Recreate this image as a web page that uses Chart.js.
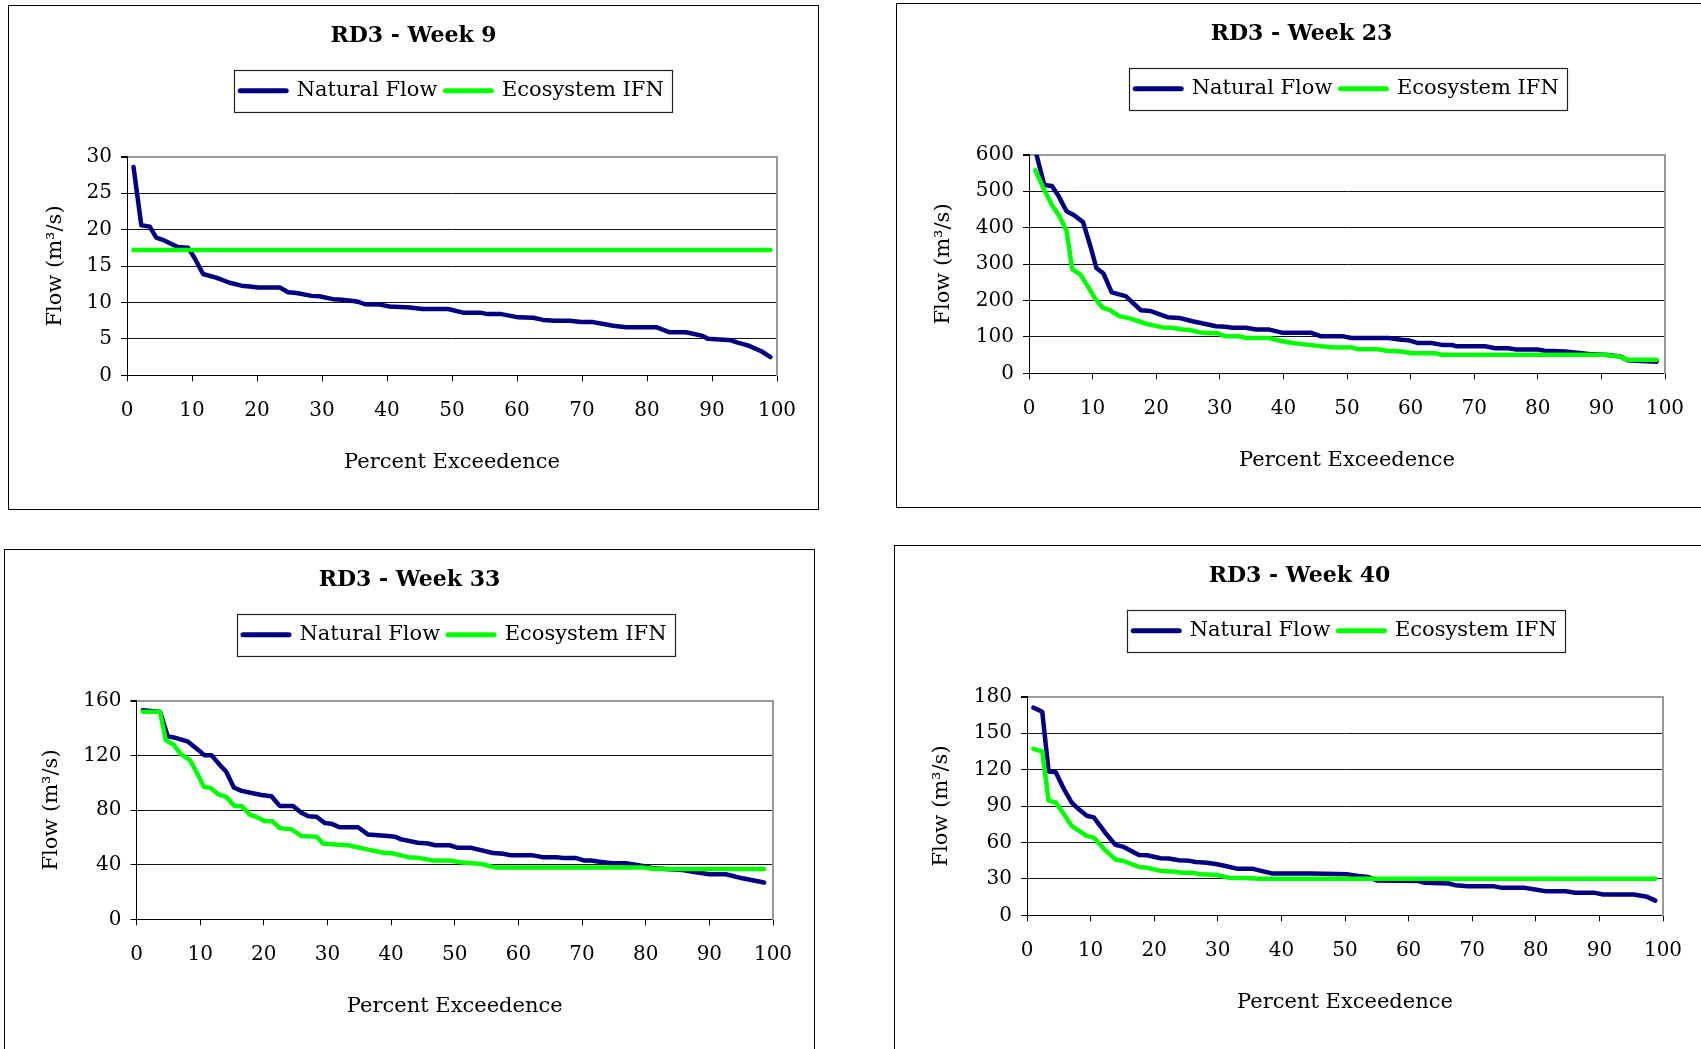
<!DOCTYPE html>
<html>
<head>
<meta charset="utf-8">
<title>RD3 flow duration curves</title>
<script src="https://cdn.jsdelivr.net/npm/chart.js@4.4.0/dist/chart.umd.min.js"></script>
<style>
  html, body { margin: 0; padding: 0; background: #fff; }
  body { width: 1701px; height: 1049px; position: relative; overflow: hidden; }
  .panel { position: absolute; width: 811px; height: 505px; border: 1px solid #000; box-sizing: border-box; background: #fff; }
  .panel canvas { position: absolute; left: 0; top: 0; }
</style>
</head>
<body>
<div class="panel" style="left:8px;top:5px"><canvas id="week9" width="809" height="503"></canvas></div>
<div class="panel" style="left:896px;top:3px"><canvas id="week23" width="809" height="503"></canvas></div>
<div class="panel" style="left:4px;top:549px"><canvas id="week33" width="809" height="503"></canvas></div>
<div class="panel" style="left:894px;top:545px"><canvas id="week40" width="809" height="503"></canvas></div>
<script>
// tick labels
const pctTicks = [0, 10, 20, 30, 40, 50, 60, 70, 80, 90, 100];
const week9FlowTicks = [0, 5, 10, 15, 20, 25, 30];
const week23FlowTicks = [0, 100, 200, 300, 400, 500, 600];
const week33FlowTicks = [0, 40, 80, 120, 160];
const week40FlowTicks = [0, 30, 60, 90, 120, 150, 180];

// week 9 (percent exceedence / flow)
const week9NaturalPct = [1, 2.2, 3.5, 4.5, 5.5, 7.8, 9.4, 10.4, 11.7, 13.7, 15.8, 17.6, 18.9, 20.2, 23.5, 24.8, 26.1, 28.4, 29.6, 31.7, 32.7, 34.8, 35.5, 36.6, 38.9, 40.4, 43.5, 45.5, 49.4, 51.7, 54.3, 55.5, 57.6, 60.2, 62.5, 64, 65.8, 68.1, 69.9, 71.7, 73.5, 74.8, 76.8, 81.4, 83.5, 86, 88.4, 89.4, 91.2, 93, 93.7, 95.5, 97.6, 99];
const week9Natural = [28.6, 20.6, 20.4, 18.9, 18.6, 17.6, 17.5, 16.1, 13.9, 13.4, 12.7, 12.3, 12.2, 12.05, 12.05, 11.4, 11.3, 10.9, 10.85, 10.45, 10.4, 10.2, 10.1, 9.75, 9.7, 9.45, 9.3, 9.1, 9.1, 8.6, 8.6, 8.4, 8.4, 7.95, 7.9, 7.6, 7.5, 7.5, 7.3, 7.3, 7.0, 6.8, 6.6, 6.6, 5.9, 5.9, 5.45, 5.0, 4.9, 4.8, 4.55, 4.1, 3.3, 2.5];
const week9IfnPct = [1, 99];
const week9Ifn = [17.2, 17.2];

// week 23
const week23NaturalPct = [1, 2.4, 3.6, 4.7, 5.9, 7.1, 8.5, 9.7, 10.6, 11.7, 13, 15.2, 17.6, 19.1, 19.9, 21.8, 23.6, 25.7, 29.4, 30.9, 32, 34.1, 35.7, 37.8, 39.9, 44.4, 45.8, 49.2, 50.7, 56.5, 58.6, 59.6, 61.2, 63.3, 64.9, 66.5, 67.2, 71.7, 73.3, 75.4, 76.7, 80.1, 81.1, 84.3, 88, 91, 93, 94.1, 98.7];
const week23Natural = [612, 517, 514, 485, 445, 434, 415, 346, 289, 274, 222, 212, 173, 171, 166, 154, 152, 143, 129, 128, 125, 125, 120, 120, 111, 111, 102, 102, 97, 97, 92, 91, 83, 83, 78, 78, 74, 74, 69, 69, 65, 65, 62, 60, 53, 50, 46, 36, 32];
const week23IfnPct = [1, 2.4, 3.6, 4.7, 5.9, 6.8, 8.1, 9.2, 10.5, 11.6, 12.8, 14.2, 16, 18.4, 21, 22.5, 24.1, 25.2, 27.3, 29.6, 30.8, 33, 34.1, 37.8, 39.3, 41.4, 44, 46, 48.1, 50.7, 51.8, 54.9, 56.2, 58.6, 60.2, 63.8, 64.9, 90.6, 91.6, 92.9, 94.1, 98.7];
const week23Ifn = [557, 503, 462, 434, 391, 286, 271, 240, 203, 180, 173, 157, 150, 136, 126, 125, 120, 119, 111, 110, 102, 102, 97, 97, 90, 83, 78, 74, 71, 71, 66, 66, 62, 60, 55, 55, 51, 51, 48, 46, 37, 37];

// week 33
const week33NaturalPct = [1, 3.7, 4.9, 6, 8.1, 9.7, 10.7, 11.8, 13.1, 14.1, 15.3, 16.5, 19.6, 21.2, 22.5, 24.6, 25.9, 27, 28.3, 29.6, 30.6, 31.9, 34.8, 36.4, 39.5, 40.6, 41.6, 44.2, 45.8, 46.9, 49.2, 50.5, 52.6, 56, 57.6, 58.9, 62.3, 63.8, 65.9, 67, 69.1, 70.4, 71.4, 73.3, 74.8, 76.9, 79.8, 81.1, 85.8, 87.4, 90, 92.6, 95.2, 98.6];
const week33Natural = [153, 152, 134, 133, 130, 124, 120, 120, 113, 108, 96.5, 94, 91, 90, 83, 83, 78, 75.4, 75, 70.4, 70, 67.4, 67.4, 62, 61, 60.5, 58.5, 56, 55.5, 54.2, 54.2, 52.3, 52.3, 48.5, 48, 46.8, 46.8, 45.5, 45.5, 44.8, 44.8, 43, 43, 41.8, 41, 41, 38.8, 37.3, 36, 34.8, 33, 33, 30, 26.9];
const week33IfnPct = [1, 3.7, 4.6, 5.8, 7, 8.4, 9.4, 10.6, 11.7, 12.8, 14.1, 15.4, 16.5, 17.8, 18.8, 20.2, 21.4, 22.5, 24.3, 25.9, 28.3, 29.3, 31.7, 33.2, 36.4, 39, 40, 42.7, 44.5, 46.6, 49.2, 50.8, 54.2, 56.3, 79.5, 81.4, 98.6];
const week33Ifn = [152, 152, 131, 128, 120.7, 116.5, 108, 97, 96, 91.6, 89.6, 83, 83, 76.6, 75, 71.7, 71.7, 66.7, 66, 61, 60.5, 55.5, 54.5, 54.2, 51, 48.5, 48.5, 45.5, 44.8, 43, 43, 41.8, 40.5, 38, 38, 36.8, 36.8];

// week 40
const week40NaturalPct = [1, 2.4, 3.4, 4.5, 5.8, 7, 8.1, 9.4, 10.5, 12.3, 13.9, 15.2, 17.6, 18.9, 21, 22.3, 23.9, 25.4, 26.5, 28.3, 29.9, 31.2, 33, 35.4, 37, 38.5, 44.8, 50.5, 52.1, 53.7, 55, 61.6, 62.6, 66.3, 67.3, 69.4, 73.3, 74.7, 78.3, 79.9, 81.5, 84.6, 86.2, 89.3, 90.6, 95.4, 97.5, 98.8];
const week40Natural = [171, 167.6, 118.4, 118, 104, 93, 87.5, 82, 80.6, 68, 58, 56.3, 49.7, 49.4, 47, 46.7, 45.3, 45, 43.9, 43.3, 42, 40.6, 38.4, 38.4, 36.4, 34.5, 34.5, 33.7, 32.3, 31.5, 28.7, 28.2, 26.8, 26.2, 24.8, 24, 24, 22.6, 22.6, 21.3, 19.9, 19.9, 18.5, 18.5, 17.1, 17.1, 15.2, 12.1];
const week40IfnPct = [1, 2.4, 3.4, 4.5, 5.8, 7, 8.1, 9.4, 10.5, 12.3, 13.9, 15.2, 17.6, 18.9, 21.2, 23.3, 24.4, 26, 27.3, 29.6, 31.7, 35.4, 36.4, 98.8];
const week40Ifn = [137, 135, 94.4, 93, 83.4, 73.7, 70, 65.4, 64, 53.6, 46, 44.7, 39.8, 39.2, 36.4, 35.9, 35, 35, 33.7, 33.4, 31, 30.6, 30, 30];

const NAVY = "#000080";
const LIME = "#00ff00";

Chart.defaults.font.family = "'DejaVu Serif', serif";
Chart.defaults.color = "#000";

// push the plot area down below the legend
const legendGap = {
  id: "legendGap",
  beforeInit(chart) {
    const fit = chart.legend.fit;
    chart.legend.fit = function () {
      fit.call(this);
      this.height += 45.4;
    };
  }
};

// frame round the legend
const legendFrame = {
  id: "legendFrame",
  afterDraw(chart) {
    const boxes = chart.legend.legendHitBoxes;
    if (!boxes || !boxes.length) return;
    const first = boxes[0];
    const last = boxes[boxes.length - 1];
    const cy = first.top + first.height / 2;
    const left = Math.round(first.left - 6) + 0.5;
    const right = Math.round(last.left + last.width + 8) + 0.5;
    const top = Math.round(cy - 21) + 0.5;
    const ctx = chart.ctx;
    ctx.save();
    ctx.strokeStyle = "#222";
    ctx.lineWidth = 1.2;
    ctx.strokeRect(left, top, right - left, 42);
    ctx.restore();
  }
};

function toPoints(xs, ys) {
  return xs.map((x, i) => ({ x: x, y: ys[i] }));
}

function legendLabels(chart) {
  return Chart.defaults.plugins.legend.labels.generateLabels(chart)
    .map(l => Object.assign(l, { lineWidth: 5, lineCap: "round" }));
}

function drawChart(id, title, flowTicks, yAxisWidth, natPct, natural, ifnPct, ifn) {
  const yMax = flowTicks[flowTicks.length - 1];
  return new Chart(document.getElementById(id), {
    type: "line",
    data: {
      datasets: [
        { label: "Natural Flow", data: toPoints(natPct, natural), borderColor: NAVY, backgroundColor: NAVY, order: 1 },
        { label: "Ecosystem IFN", data: toPoints(ifnPct, ifn), borderColor: LIME, backgroundColor: LIME, order: 0 }
      ]
    },
    options: {
      responsive: false,
      animation: false,
      layout: { padding: 0 },
      elements: {
        point: { radius: 0, hoverRadius: 0 },
        line: { borderWidth: 4.5, tension: 0, borderCapStyle: "round", borderJoinStyle: "round" }
      },
      plugins: {
        title: {
          display: true,
          text: title,
          font: { size: 22, weight: "bold" },
          padding: { top: 16.9, bottom: 23 }
        },
        legend: {
          position: "top",
          fullSize: false,
          labels: {
            usePointStyle: true,
            pointStyle: "line",
            pointStyleWidth: 46,
            padding: 8,
            font: { size: 21 },
            generateLabels: legendLabels,
            sort: (a, b) => a.datasetIndex - b.datasetIndex
          }
        },
        tooltip: { enabled: false }
      },
      scales: {
        x: {
          type: "linear",
          min: pctTicks[0],
          max: pctTicks[pctTicks.length - 1],
          ticks: { stepSize: pctTicks[1] - pctTicks[0], font: { size: 20 }, padding: 17, maxRotation: 0 },
          grid: { drawOnChartArea: false, tickLength: 6, color: "#000" },
          border: { display: true, color: "#000", width: 1 },
          title: { display: true, text: "Percent Exceedence", font: { size: 21 }, padding: { top: 0, bottom: 34 } },
          afterFit: s => { s.height = 133.7; }
        },
        y: {
          min: flowTicks[0],
          max: yMax,
          ticks: { stepSize: flowTicks[1] - flowTicks[0], font: { size: 20 }, padding: 9 },
          grid: {
            tickLength: 6,
            tickColor: "#000",
            color: c => (c.tick && c.tick.value === yMax ? "#999" : "#111"),
            lineWidth: c => (c.tick && c.tick.value === yMax ? 2 : 1)
          },
          border: { display: true, color: "#000", width: 1 },
          title: { display: true, text: "Flow (m\u00b3/s)", font: { size: 21 }, padding: { top: 33.5, bottom: 0 } },
          afterFit: s => { s.width = yAxisWidth; }
        },
        // empty right-hand axis: keeps the margin and draws the grey plot edge
        frame: {
          position: "right",
          min: 0,
          max: 1,
          ticks: { display: false },
          grid: { drawOnChartArea: false, drawTicks: false },
          border: { display: true, color: "#999", width: 2 },
          afterFit: s => { s.width = 41; }
        }
      }
    },
    plugins: [legendGap, legendFrame]
  });
}

drawChart("week9", "RD3 - Week 9", week9FlowTicks, 118, week9NaturalPct, week9Natural, week9IfnPct, week9Ifn);
drawChart("week23", "RD3 - Week 23", week23FlowTicks, 132, week23NaturalPct, week23Natural, week23IfnPct, week23Ifn);
drawChart("week33", "RD3 - Week 33", week33FlowTicks, 131.5, week33NaturalPct, week33Natural, week33IfnPct, week33Ifn);
drawChart("week40", "RD3 - Week 40", week40FlowTicks, 132, week40NaturalPct, week40Natural, week40IfnPct, week40Ifn);
</script>
</body>
</html>
